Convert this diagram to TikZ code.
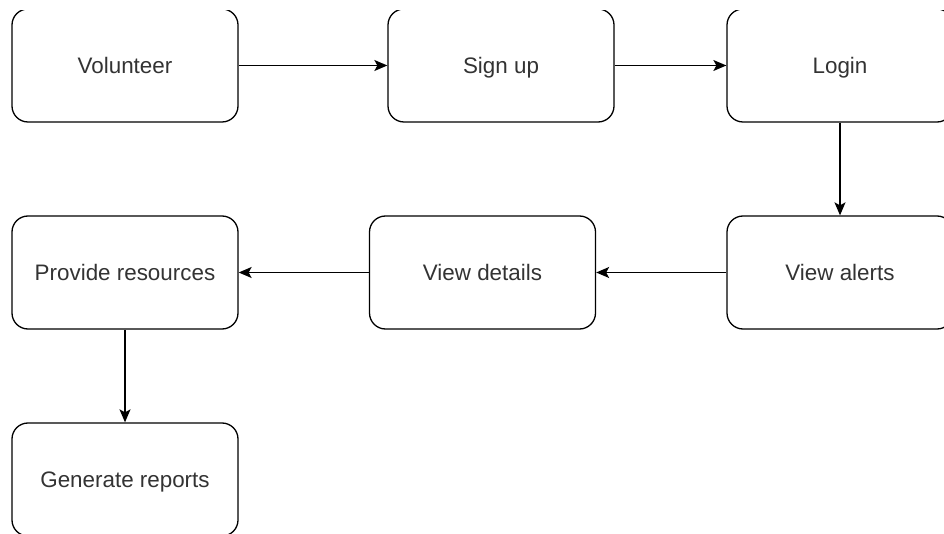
\documentclass[tikz,border=0pt]{standalone}
\usepackage{fontspec}
\setmainfont{Liberation Sans}
\usetikzlibrary{arrows.meta}
\begin{document}
\begin{tikzpicture}[x=1pt,y=-1pt,
  box/.style={draw=black, line width=1.3pt, rounded corners=16pt, fill=white,
    minimum width=226pt, minimum height=113pt, inner sep=0pt,
    text height=16pt, text depth=0pt,
    font=\fontsize{22.4}{26}\selectfont, text=black!80},
  conn/.style={line width=1.3pt, -{Stealth[length=13pt,width=11pt,inset=3pt]}}]
\useasboundingbox (0,0) rectangle (944,534);
\begin{scope}
\clip (0,10.8) rectangle (944,534);
\node[box] (vol) at (125,65.5) {Volunteer};
\node[box] (sign) at (501,65.5) {Sign up};
\node[box] (login) at (840,65.5) {Login};
\node[box] (alerts) at (840,272.5) {View alerts};
\node[box] (details) at (482.5,272.5) {View details};
\node[box] (prov) at (125,272.5) {Provide resources};
\node[box] (gen) at (125,479.5) {Generate reports};
\draw[conn] (vol) -- (sign);
\draw[conn] (sign) -- (login);
\draw[conn] (login) -- (alerts);
\draw[conn] (alerts) -- (details);
\draw[conn] (details) -- (prov);
\draw[conn] (prov) -- (gen);
\end{scope}
\end{tikzpicture}
\end{document}
